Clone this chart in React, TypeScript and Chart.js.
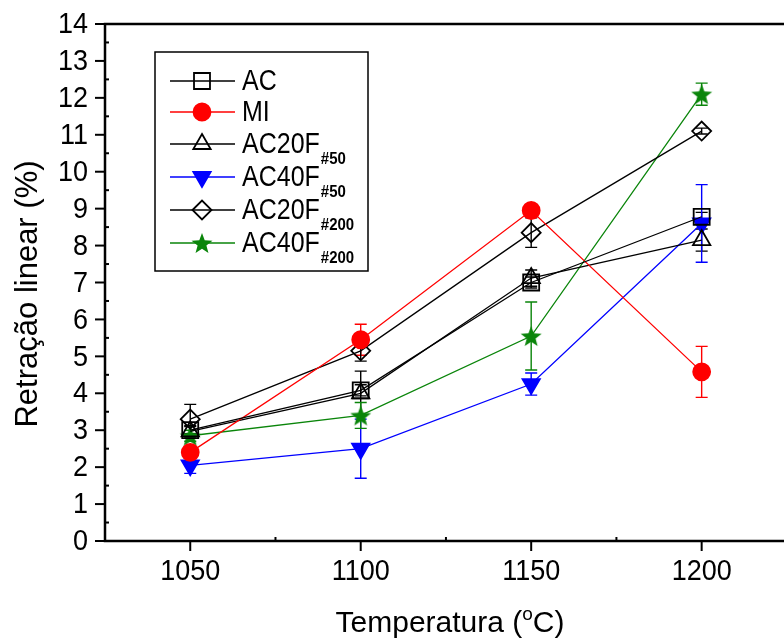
import React, { useEffect, useRef } from 'react';
import { Chart, registerables } from 'chart.js';
import { drawPoint } from 'chart.js/helpers';

Chart.register(...registerables);

// ---------- data ----------
const TEMPERATURES = [1050, 1100, 1150, 1200];
const X_TICKS = [1050, 1100, 1150, 1200];
const X_MINOR = [1075, 1125, 1175];
const Y_TICKS = [0, 1, 2, 3, 4, 5, 6, 7, 8, 9, 10, 11, 12, 13, 14];

const AC = [3.0, 4.08, 7.0, 8.78];
const AC_ERR = [0.1, 0.15, 0.15, 0.12];
const MI = [2.4, 5.45, 8.95, 4.58];
const MI_ERR = [0.15, 0.42, 0.1, 0.69];
const AC20F50 = [2.97, 4.0, 7.12, 8.15];
const AC20F50_ERR = [0.15, 0.6, 0.22, 0.3];
const AC40F50 = [2.05, 2.5, 4.25, 8.6];
const AC40F50_ERR = [0.22, 0.8, 0.3, 1.05];
const AC20F200 = [3.3, 5.15, 8.35, 11.1];
const AC20F200_ERR = [0.4, 0.28, 0.4, 0.08];
const AC40F200 = [2.85, 3.4, 5.55, 12.1];
const AC40F200_ERR = [0.15, 0.35, 0.92, 0.3];

const SERIES_NAMES = ['AC', 'MI', 'AC20F', 'AC40F', 'AC20F', 'AC40F'];
const SERIES_SUBS = ['', '', '#50', '#50', '#200', '#200'];

// ---------- layout ----------
const CANVAS_W = 800;
const CANVAS_H = 638;
const AREA_LEFT = 105;
const AREA_TOP = 24;
const AREA_BOTTOM = 541;
const AREA_RIGHT = 793;
const FONT = '"Liberation Sans", Arial, Helvetica, sans-serif';

const RED = '#ff0000';
const BLUE = '#0000ff';
const GREEN = '#0a850a';
const BLACK = '#000000';

function makeStar(color: string, R: number) {
  const c = document.createElement('canvas');
  const s = Math.ceil(R * 2 + 4);
  c.width = s;
  c.height = s;
  const g = c.getContext('2d')!;
  const cx = s / 2;
  const cy = s / 2 + R * 0.1;
  const r = R * 0.42;
  g.beginPath();
  for (let i = 0; i < 10; i++) {
    const ang = -Math.PI / 2 + (i * Math.PI) / 5;
    const rr = i % 2 === 0 ? R : r;
    const px = cx + rr * Math.cos(ang);
    const py = cy + rr * Math.sin(ang);
    if (i === 0) g.moveTo(px, py);
    else g.lineTo(px, py);
  }
  g.closePath();
  g.fillStyle = color;
  g.fill();
  return c;
}

function drawText(
  ctx: CanvasRenderingContext2D,
  str: string,
  x: number,
  y: number,
  font: string,
  align: CanvasTextAlign,
  baseline: CanvasTextBaseline,
  sy = 1
) {
  ctx.save();
  ctx.translate(x, y);
  ctx.scale(1, sy);
  ctx.font = font;
  ctx.textAlign = align;
  ctx.textBaseline = baseline;
  ctx.fillStyle = '#000';
  ctx.fillText(str, 0, 0);
  ctx.restore();
}

export default function App() {
  const ref = useRef<HTMLCanvasElement>(null);

  useEffect(() => {
    const star = makeStar(GREEN, 11);

    const styles = [
      { pointStyle: 'rect', radius: 11.3, color: BLACK, fill: 'rgba(255,255,255,0)' },
      { pointStyle: 'circle', radius: 8.5, color: RED, fill: RED },
      { pointStyle: 'triangle', radius: 10, color: BLACK, fill: 'rgba(255,255,255,0)', rotation: 0 },
      { pointStyle: 'triangle', radius: 10, color: BLUE, fill: BLUE, rotation: 180 },
      { pointStyle: 'rectRot', radius: 9.5, color: BLACK, fill: 'rgba(255,255,255,0)' },
      { pointStyle: star as any, radius: 11, color: GREEN, fill: GREEN },
    ];
    const values = [AC, MI, AC20F50, AC40F50, AC20F200, AC40F200];
    const errors = [AC_ERR, MI_ERR, AC20F50_ERR, AC40F50_ERR, AC20F200_ERR, AC40F200_ERR];

    const datasets = values.map((vals, i) => ({
      label: SERIES_NAMES[i] + SERIES_SUBS[i],
      data: TEMPERATURES.map((t, j) => ({ x: t, y: vals[j] })),
      borderColor: styles[i].color,
      backgroundColor: styles[i].fill,
      borderWidth: 1.3,
      pointStyle: styles[i].pointStyle,
      pointRadius: styles[i].radius,
      pointRotation: (styles[i] as any).rotation || 0,
      pointBorderColor: styles[i].color,
      pointBackgroundColor: styles[i].fill,
      pointBorderWidth: 1.8,
      tension: 0,
      fill: false,
    }));

    const plugin = {
      id: 'originLook',
      beforeDatasetsDraw(chart: any) {
        const ctx: CanvasRenderingContext2D = chart.ctx;
        const xs = chart.scales.x;
        const ys = chart.scales.y;
        ctx.save();
        values.forEach((vals, i) => {
          ctx.strokeStyle = styles[i].color;
          ctx.lineWidth = 1.4;
          vals.forEach((v, j) => {
            const e = errors[i][j];
            const px = xs.getPixelForValue(TEMPERATURES[j]);
            const top = ys.getPixelForValue(v + e);
            const bot = ys.getPixelForValue(v - e);
            ctx.beginPath();
            ctx.moveTo(px, top);
            ctx.lineTo(px, bot);
            ctx.moveTo(px - 6, top);
            ctx.lineTo(px + 6, top);
            ctx.moveTo(px - 6, bot);
            ctx.lineTo(px + 6, bot);
            ctx.stroke();
          });
        });
        ctx.restore();
      },
      afterDraw(chart: any) {
        const ctx: CanvasRenderingContext2D = chart.ctx;
        const xs = chart.scales.x;
        const ys = chart.scales.y;
        const a = chart.chartArea;
        ctx.save();
        ctx.strokeStyle = '#000';
        ctx.lineCap = 'butt';
        // frame
        ctx.lineWidth = 2.5;
        ctx.beginPath();
        ctx.moveTo(a.left, a.top);
        ctx.lineTo(a.right, a.top);
        ctx.moveTo(a.left, a.top - 1.25);
        ctx.lineTo(a.left, a.bottom + 1.25);
        ctx.moveTo(a.left, a.bottom);
        ctx.lineTo(a.right, a.bottom);
        ctx.moveTo(a.right, a.top);
        ctx.lineTo(a.right, a.bottom);
        ctx.stroke();
        // y ticks
        ctx.lineWidth = 2;
        Y_TICKS.forEach((v) => {
          const py = ys.getPixelForValue(v);
          ctx.beginPath();
          ctx.moveTo(a.left - 10, py);
          ctx.lineTo(a.left, py);
          ctx.stroke();
          drawText(ctx, String(v), a.left - 17, py + 1, `27px ${FONT}`, 'right', 'middle', 1.1);
        });
        for (let k = 0; k < Y_TICKS.length - 1; k++) {
          const py = ys.getPixelForValue((Y_TICKS[k] + Y_TICKS[k + 1]) / 2);
          ctx.beginPath();
          ctx.moveTo(a.left, py);
          ctx.lineTo(a.left + 4, py);
          ctx.stroke();
        }
        // x ticks
        X_TICKS.forEach((v) => {
          const px = xs.getPixelForValue(v);
          ctx.beginPath();
          ctx.moveTo(px, a.bottom);
          ctx.lineTo(px, a.bottom + 10);
          ctx.stroke();
          drawText(ctx, String(v), px, 572, `27px ${FONT}`, 'center', 'middle', 1.1);
        });
        X_MINOR.forEach((v) => {
          const px = xs.getPixelForValue(v);
          ctx.beginPath();
          ctx.moveTo(px, a.bottom);
          ctx.lineTo(px, a.bottom - 4);
          ctx.stroke();
        });
        // x title with superscript o
        {
          const f = `30px ${FONT}`;
          const fs = `19px ${FONT}`;
          ctx.font = f;
          const w1 = ctx.measureText('Temperatura (').width;
          ctx.font = fs;
          const w2 = ctx.measureText('o').width;
          ctx.font = f;
          const w3 = ctx.measureText('C)').width;
          const total = w1 + w2 + w3;
          const cx = 450;
          const x0 = cx - total / 2;
          const base = 632;
          drawText(ctx, 'Temperatura (', x0, base, f, 'left', 'alphabetic');
          drawText(ctx, 'o', x0 + w1, base - 12, fs, 'left', 'alphabetic');
          drawText(ctx, 'C)', x0 + w1 + w2, base, f, 'left', 'alphabetic');
        }
        // y title
        ctx.save();
        ctx.translate(37, 294);
        ctx.rotate(-Math.PI / 2);
        ctx.font = `31px ${FONT}`;
        ctx.textAlign = 'center';
        ctx.textBaseline = 'alphabetic';
        ctx.fillStyle = '#000';
        ctx.fillText('Retração linear (%)', 0, 0);
        ctx.restore();
        // legend
        ctx.lineWidth = 1.5;
        ctx.strokeRect(155, 52, 213, 219);
        const rowsY = [81, 112, 144, 177, 210, 243];
        SERIES_NAMES.forEach((name, i) => {
          const y = rowsY[i];
          ctx.strokeStyle = styles[i].color;
          ctx.lineWidth = 1.3;
          ctx.beginPath();
          ctx.moveTo(170, y);
          ctx.lineTo(235, y);
          ctx.stroke();
          ctx.strokeStyle = styles[i].color;
          ctx.fillStyle = styles[i].fill;
          ctx.lineWidth = 1.8;
          drawPoint(ctx, {
            pointStyle: styles[i].pointStyle,
            radius: styles[i].radius,
            rotation: (styles[i] as any).rotation || 0,
            borderWidth: 1.8,
          } as any, 202, y);
          const f = `25px ${FONT}`;
          drawText(ctx, name, 242, y + 9, f, 'left', 'alphabetic', 1.15);
          if (SERIES_SUBS[i]) {
            ctx.font = f;
            const w = ctx.measureText(name).width;
            drawText(ctx, SERIES_SUBS[i], 242 + w + 1, y + 20, `bold 15px ${FONT}`, 'left', 'alphabetic', 1.05);
          }
        });
        ctx.restore();
      },
    };

    const chart = new Chart(ref.current!, {
      type: 'line',
      data: { datasets: datasets as any },
      options: {
        animation: false,
        responsive: false,
        maintainAspectRatio: false,
        devicePixelRatio: 1,
        layout: { padding: { top: AREA_TOP, right: CANVAS_W - AREA_RIGHT, left: 0, bottom: 0 } },
        plugins: { legend: { display: false }, tooltip: { enabled: false } },
        scales: {
          x: {
            type: 'linear',
            min: 1025,
            max: 1225,
            grid: { display: false },
            border: { display: false },
            ticks: { display: false },
            afterFit: (s: any) => {
              s.height = CANVAS_H - AREA_BOTTOM;
            },
          },
          y: {
            type: 'linear',
            min: 0,
            max: 14,
            grid: { display: false },
            border: { display: false },
            ticks: { display: false },
            afterFit: (s: any) => {
              s.width = AREA_LEFT;
            },
          },
        },
      },
      plugins: [plugin],
    });
    return () => chart.destroy();
  }, []);

  return (
    <div
      style={{
        position: 'fixed',
        left: 0,
        top: 0,
        width: 784,
        height: 638,
        overflow: 'hidden',
        background: '#fff',
      }}
    >
      <canvas ref={ref} width={CANVAS_W} height={CANVAS_H} style={{ display: 'block' }} />
    </div>
  );
}
